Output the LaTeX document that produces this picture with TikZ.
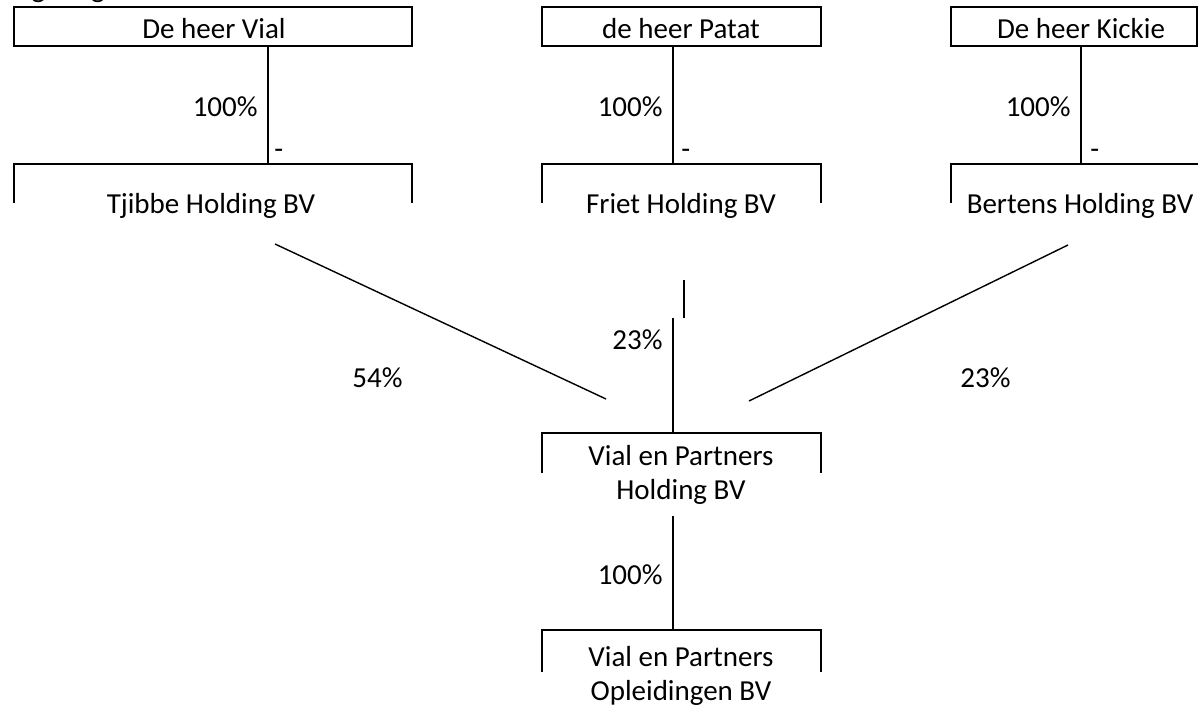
\documentclass[tikz,border=0pt]{standalone}
\usepackage{fontspec}
\setmainfont{Carlito}
\usepackage{tikz}
\tikzset{
  bx/.style={draw=black, line width=1pt},
  ln/.style={draw=black, line width=1pt},
  dg/.style={draw=black, line width=0.7pt},
  txt/.style={anchor=base, inner sep=0pt, align=center, font=\fontsize{14.5pt}{16.75pt}\selectfont},
  pct/.style={txt, anchor=base east},
  tick/.style={txt, anchor=base west},
  organo/.style={x=0.5pt, y=-0.5pt}
}

\begin{document}
\begin{tikzpicture}[organo]
  \useasboundingbox (0,0) rectangle (1198,705);
  \node[tick, font=\fontsize{15pt}{18pt}\selectfont] (titel) at (1,-2) {Organogram};
  % owners
  \draw[bx] (14,7) rectangle (412,46);
  \draw[bx] (542,7) rectangle (821,46);
  \draw[bx] (951,7) rectangle (1197,46);
  \node[txt] (vial) at (214,39) {De heer Vial};
  \node[txt] (patat) at (681,39) {de heer Patat};
  \node[txt] (kickie) at (1081,39) {De heer Kickie};
  % holdings
  \draw[bx] (14,203) |- (412,164) -- (412,203);
  \draw[bx] (542,203) |- (821,164) -- (821,203);
  \draw[bx] (951,203) |- (1211,164) -- (1211,203);
  \node[txt] (tjibbe) at (211,214) {Tjibbe Holding BV};
  \node[txt] (friet) at (681,214) {Friet Holding BV};
  \node[txt] (bertens) at (1080,214) {Bertens Holding BV};
  % vial en partners (base = last line)
  \draw[bx] (542,473) |- (821,433) -- (821,473);
  \draw[bx] (542,672) |- (821,630) -- (821,672);
  \node[txt] (vph) at (681,499) {Vial en Partners\\Holding BV};
  \node[txt] (vpo) at (681,700) {Vial en Partners\\Opleidingen BV};
  % connector ends
  \coordinate (vial-dn) at (268,46);   \coordinate (tjibbe-up) at (268,164);
  \coordinate (patat-dn) at (673,46);  \coordinate (friet-up) at (673,164);
  \coordinate (kickie-dn) at (1081,46); \coordinate (bertens-up) at (1081,164);
  \coordinate (tjibbe-dn) at (275,244); \coordinate (vph-l) at (606,399);
  \coordinate (bertens-dn) at (1068,245); \coordinate (vph-r) at (749,401);
  \coordinate (friet-dn) at (684,280); \coordinate (friet-stub) at (684,318);
  \coordinate (vph-in) at (673,318);   \coordinate (vph-up) at (673,433);
  \coordinate (vph-dn) at (673,516);   \coordinate (vpo-up) at (673,630);
  \draw[ln] (vial-dn) -- (tjibbe-up);
  \draw[ln] (patat-dn) -- (friet-up);
  \draw[ln] (kickie-dn) -- (bertens-up);
  \draw[dg] (tjibbe-dn) -- (vph-l);
  \draw[dg] (bertens-dn) -- (vph-r);
  \draw[ln] (friet-dn) -- (friet-stub);
  \draw[ln] (vph-in) -- (vph-up);
  \draw[ln] (vph-dn) -- (vpo-up);
  % shares
  \node[pct] (p1) at (258,117) {100\%};
  \node[pct] (p2) at (663,117) {100\%};
  \node[pct] (p3) at (1071,117) {100\%};
  \node[tick] (m1) at (274,159) {-};
  \node[tick] (m2) at (681,159) {-};
  \node[tick] (m3) at (1090,159) {-};
  \node[tick] (p4) at (352,387) {54\%};
  \node[pct] (p5) at (663,350) {23\%};
  \node[tick] (p6) at (960,387) {23\%};
  \node[pct] (p7) at (663,584) {100\%};
\end{tikzpicture}
\end{document}
